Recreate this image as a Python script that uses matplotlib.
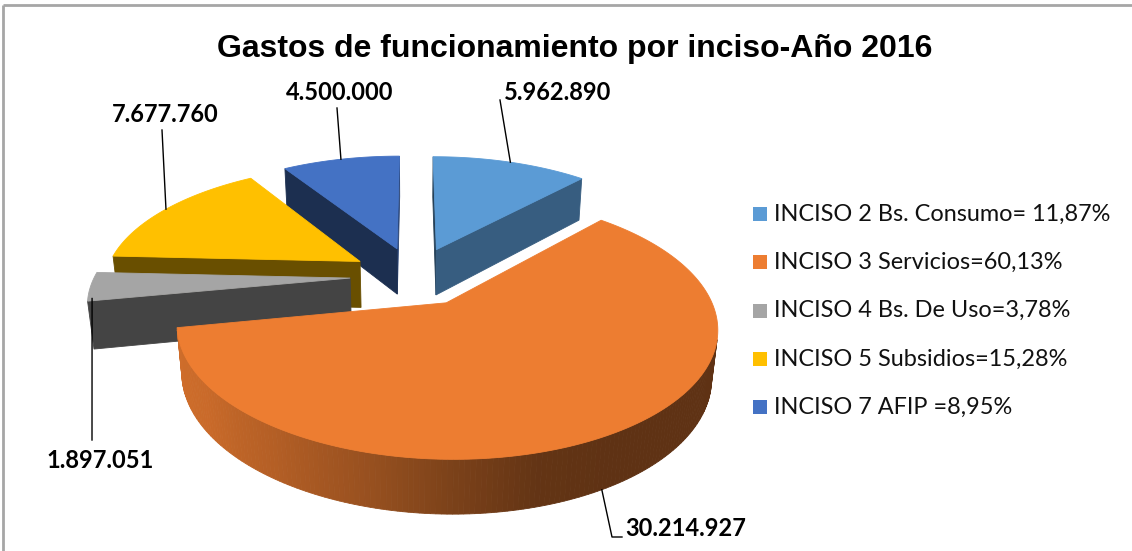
import numpy as np
import matplotlib
matplotlib.use("Agg")
import matplotlib.pyplot as plt
from matplotlib.patches import Polygon, Rectangle
from matplotlib.colors import to_rgb

# data
values = [5962890, 30214927, 1897051, 7677760, 4500000]
legend_labels = ["INCISO 2 Bs. Consumo= 11,87%", "INCISO 3 Servicios=60,13%",
                 "INCISO 4 Bs. De Uso=3,78%", "INCISO 5 Subsidios=15,28%",
                 "INCISO 7 AFIP =8,95%"]
colors = ["#5B9BD5", "#ED7D31", "#A5A5A5", "#FFC000", "#4472C4"]
title = "Gastos de funcionamiento por inciso-Año 2016"

# layout of the fake 3d pie (pixel space)
W, H = 1132, 551
cx, cy = 414, 276
F = 1277
D = 5.0
elev = np.radians(27.5)
thick = 0.21
explode = 0.25
cam = np.array([0, -D * np.cos(elev), D * np.sin(elev)])

# label text centres, leader start points, anchor height on slice
label_xy = [(558, 92), (686, 528), (100, 460), (165, 115), (340, 93)]
leader_start = [[(500, 100)], [(622, 537), (612, 537)], [(92, 440)],
                [(162, 130)], [(337, 108)]]
anchor_z = [0, -1.0, -0.25, 0, 0]


def proj(x, y, z):
    depth = y * np.cos(elev) + D - z * np.sin(elev)
    sx = F * x / depth
    sy = F * (y * np.sin(elev) + z * np.cos(elev)) / depth
    return cx + sx, cy - sy


def shade(c, f):
    r, g, b = to_rgb(c)
    return (r * f, g * f, b * f)


fig = plt.figure(figsize=(W / 100, H / 100), dpi=100)
ax = fig.add_axes([0, 0, 1, 1])
ax.set_xlim(0, W)
ax.set_ylim(H, 0)
ax.axis("off")

# frame (only top and left visible in the reference)
ax.plot([3, W], [5, 5], color="#A6A6A6", lw=2, solid_capstyle="butt")
ax.plot([3, 3], [5, H], color="#A6A6A6", lw=2, solid_capstyle="butt")

total = sum(values)
fracs = np.array(values) / total
ends = np.cumsum(fracs) * 2 * np.pi
starts = ends - fracs * 2 * np.pi

slices = []
for i in range(len(values)):
    a1, a2 = starts[i], ends[i]
    m = (a1 + a2) / 2
    ox, oy = explode * np.sin(m), explode * np.cos(m)
    slices.append((oy, i, a1, a2, ox, oy))

# far slices first
slices.sort(key=lambda s: -s[0])

for _, i, a1, a2, ox, oy in slices:
    col = colors[i]
    faces = []
    # outer wall
    n = max(int(np.degrees(a2 - a1)), 2)
    th = np.linspace(a1, a2, n + 1)
    for k in range(n):
        t0, t1 = th[k], th[k + 1]
        tm = (t0 + t1) / 2
        nrm = np.array([np.sin(tm), np.cos(tm), 0])
        p = np.array([ox + np.sin(tm), oy + np.cos(tm), -thick / 2])
        if np.dot(cam - p, nrm) <= 0:
            continue
        pts = [proj(ox + np.sin(t0), oy + np.cos(t0), 0),
               proj(ox + np.sin(t1), oy + np.cos(t1), 0),
               proj(ox + np.sin(t1), oy + np.cos(t1), -thick),
               proj(ox + np.sin(t0), oy + np.cos(t0), -thick)]
        deg = np.degrees(tm) % 360
        f = np.interp(deg, [150, 165, 180, 195, 215, 235, 260],
                      [0.4, 0.42, 0.52, 0.64, 0.76, 0.85, 0.88])
        faces.append((p[1], pts, shade(col, f)))
    # radial faces
    for a, sign in ((a1, -1), (a2, 1)):
        nrm = np.array([sign * np.cos(a), -sign * np.sin(a), 0])
        p = np.array([ox + 0.5 * np.sin(a), oy + 0.5 * np.cos(a), -thick / 2])
        if np.dot(cam - p, nrm) <= 0:
            continue
        pts = [proj(ox, oy, 0), proj(ox + np.sin(a), oy + np.cos(a), 0),
               proj(ox + np.sin(a), oy + np.cos(a), -thick),
               proj(ox, oy, -thick)]
        f = 0.6 if nrm[0] > 0.5 else 0.41
        faces.append((p[1], pts, shade(col, f)))
    faces.sort(key=lambda fc: -fc[0])
    for _, pts, fc in faces:
        ax.add_patch(Polygon(pts, closed=True, facecolor=fc, edgecolor=fc,
                             lw=0.6, zorder=2))
    # top face
    th = np.linspace(a1, a2, max(int(np.degrees(a2 - a1)) * 2, 4))
    top = [proj(ox, oy, 0)] + [proj(ox + np.sin(t), oy + np.cos(t), 0) for t in th]
    ax.add_patch(Polygon(top, closed=True, facecolor=col, edgecolor=col,
                         lw=0.6, zorder=2))

# data labels with leader lines
for i, v in enumerate(values):
    m = (starts[i] + ends[i]) / 2
    ox, oy = explode * np.sin(m), explode * np.cos(m)
    anc = proj(ox + np.sin(m), oy + np.cos(m), anchor_z[i] * thick)
    pts = leader_start[i] + [anc]
    ax.plot([p[0] for p in pts], [p[1] for p in pts], color="black", lw=1,
            zorder=3)
    ax.text(label_xy[i][0], label_xy[i][1], f"{v:,}".replace(",", "."),
            ha="center", va="center", fontsize=17, fontweight="bold",
            family="Lato", zorder=4)

# legend
for i, lab in enumerate(legend_labels):
    yc = 214 + i * 48.3
    ax.add_patch(Rectangle((753, yc - 7), 14, 14, facecolor=colors[i],
                           edgecolor="none"))
    ax.text(774, yc, lab, ha="left", va="center", fontsize=16.9,
            family="Lato", color="#111111")

ax.text(575, 57, title, ha="center", va="baseline", fontsize=23,
        fontweight="bold", family="Liberation Sans")

fig.savefig("out.png", dpi=100)
